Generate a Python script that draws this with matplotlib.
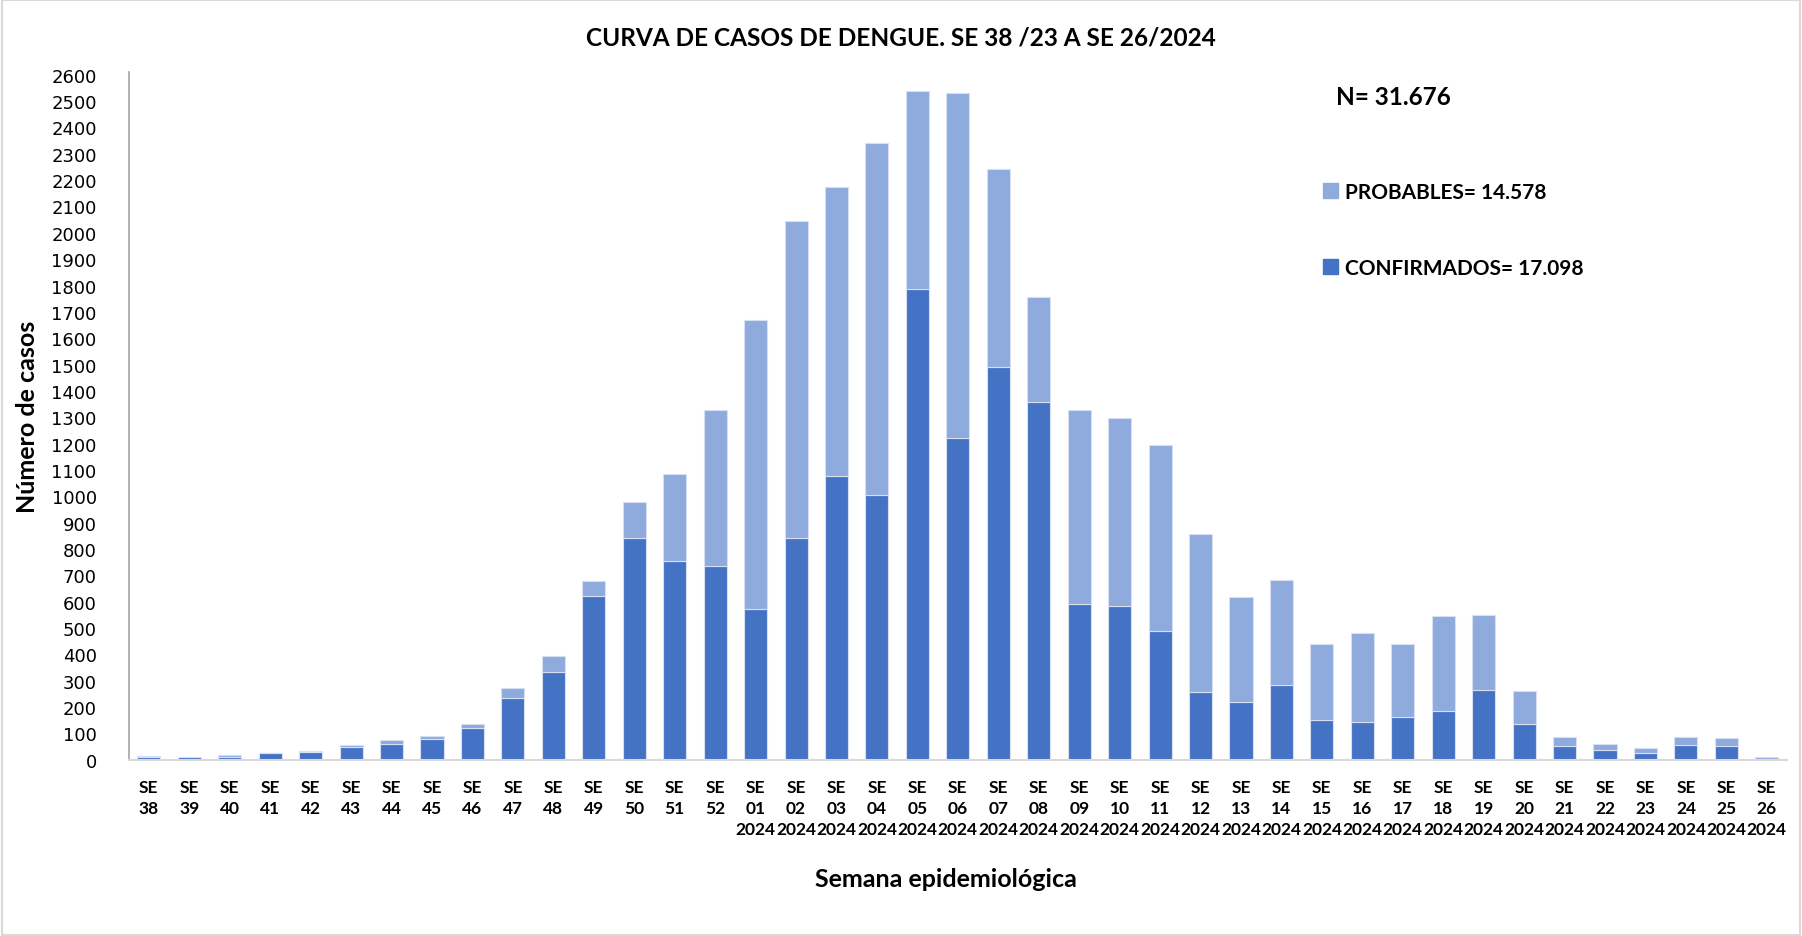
import matplotlib
matplotlib.use("Agg")
import matplotlib.pyplot as plt
from matplotlib.patches import Patch, Rectangle
import numpy as np

# weeks SE 38/2023 .. SE 26/2024
weeks = ["38", "39", "40", "41", "42", "43", "44", "45", "46", "47", "48", "49",
         "50", "51", "52", "01", "02", "03", "04", "05", "06", "07", "08", "09",
         "10", "11", "12", "13", "14", "15", "16", "17", "18", "19", "20", "21",
         "22", "23", "24", "25", "26"]
confirmados = [12, 11, 11, 27, 28, 49, 62, 80, 121, 235, 335, 623,
               841, 753, 736, 571, 841, 1076, 1006, 1786, 1220, 1490, 1359, 592,
               584, 488, 257, 218, 283, 152, 144, 161, 187, 266, 136, 53,
               36, 25, 58, 53, 5]
totales = [13, 12, 19, 27, 33, 56, 77, 91, 135, 273, 395, 679,
           980, 1085, 1328, 1668, 2043, 2173, 2339, 2539, 2531, 2243, 1755, 1328,
           1298, 1193, 858, 618, 684, 440, 483, 440, 544, 549, 261, 85,
           59, 44, 86, 82, 9]
probables = [t - c for t, c in zip(totales, confirmados)]
yticks = list(range(0, 2700, 100))

c_conf = "#4472C4"
c_prob = "#8FAADC"
NARROW = ["Lato", "DejaVu Sans"]

fig = plt.figure(figsize=(18.02, 9.37), dpi=100)
ax = fig.add_axes([0.0714, 0.188, 0.9203, 0.734])

x = np.arange(len(weeks))
ax.bar(x, confirmados, width=0.57, color=c_conf, edgecolor="#D6E0F2", linewidth=0.8)
ax.bar(x, probables, bottom=confirmados, width=0.57, color=c_prob,
       edgecolor="#D6E0F2", linewidth=0.8)

ax.set_xlim(-0.5, len(weeks) - 0.5)
ax.set_ylim(0, 2610)
ax.set_yticks(yticks)
ax.set_yticklabels([str(v) for v in yticks], fontsize=13, family="DejaVu Sans")
ax.tick_params(axis="y", length=0, pad=23)

labels = []
for i, w in enumerate(weeks):
    if i < 15:
        labels.append("SE\n" + w)
    else:
        labels.append("SE\n" + w + "\n2024")
ax.set_xticks(x)
ax.set_xticklabels(labels, fontsize=12.5, fontweight="bold", family=NARROW,
                   va="top", linespacing=1.38)
ax.tick_params(axis="x", length=0, pad=14)

for s in ["top", "right"]:
    ax.spines[s].set_visible(False)
ax.spines["left"].set_color("#A6A6A6")
ax.spines["left"].set_linewidth(1.2)
ax.spines["bottom"].set_color("#D9D9D9")
ax.spines["bottom"].set_linewidth(1.5)

ax.set_ylabel("Número de casos", fontsize=18, fontweight="bold", family=NARROW)
ax.yaxis.set_label_coords(-0.054, 0.5)

fig.text(0.5, 0.959, "CURVA DE CASOS DE DENGUE. SE 38 /23 A SE 26/2024",
         ha="center", va="center", fontsize=17.6, fontweight="bold", family=NARROW)
fig.text(0.525, 0.061, "Semana epidemiológica", ha="center", va="center",
         fontsize=18, fontweight="bold", family=NARROW)
fig.text(0.7735, 0.896, "N= 31.676", ha="center", va="center",
         fontsize=17.6, fontweight="bold", family=NARROW)

handles = [Patch(color=c_prob, label="PROBABLES= 14.578"),
           Patch(color=c_conf, label="CONFIRMADOS= 17.098")]
fig.legend(handles=handles, loc="upper left", bbox_to_anchor=(0.724, 0.825),
           frameon=False, prop={"family": NARROW, "weight": "bold", "size": 15},
           handlelength=0.7, handleheight=0.7, handletextpad=0.35, labelspacing=2.7)

fig.patches.append(Rectangle((0.001, 0.001), 0.998, 0.998, transform=fig.transFigure,
                             fill=False, edgecolor="#D9D9D9", linewidth=1.5))

fig.savefig("out.png", dpi=100)
